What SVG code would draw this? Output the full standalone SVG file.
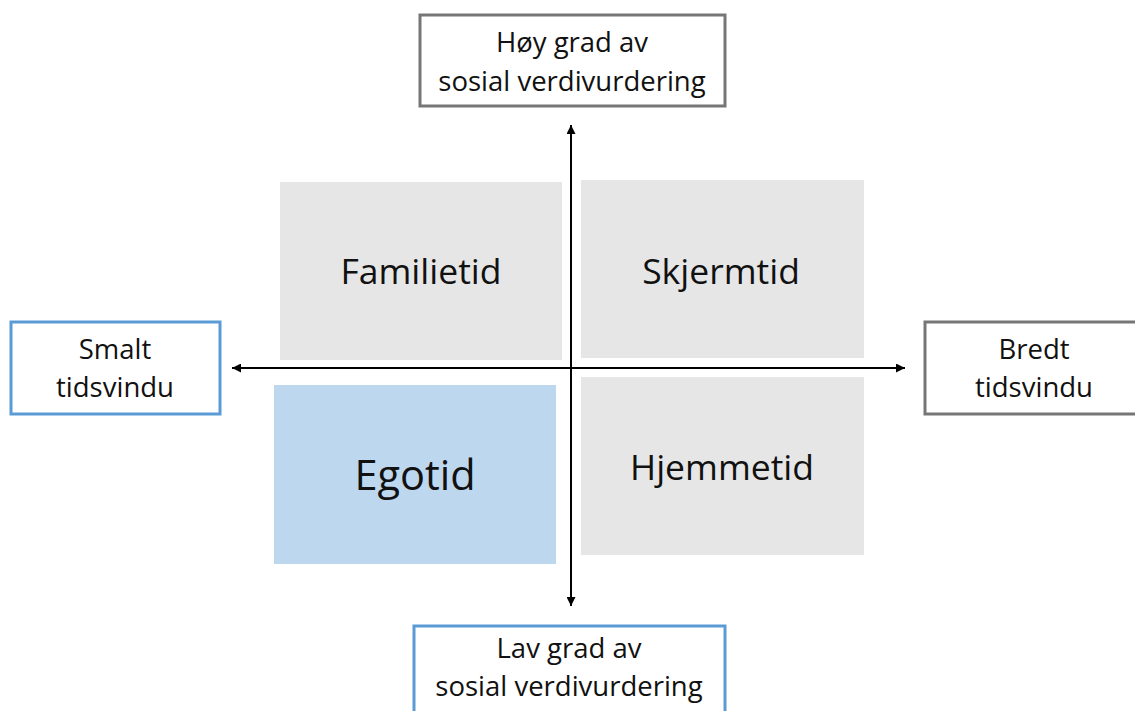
<svg xmlns="http://www.w3.org/2000/svg" width="1135" height="711" viewBox="0 0 1135 711">
<defs>
<marker id="ah" viewBox="0 0 10 10" refX="10" refY="5" markerWidth="9" markerHeight="9" markerUnits="userSpaceOnUse" orient="auto-start-reverse">
<path d="M0,0 L10,5 L0,10 Z" fill="#000"/>
</marker>
<style>
.lbl{font-family:"Open Sans","Liberation Sans",sans-serif;fill:#111;text-anchor:middle}
.sm{font-size:27.5px}
.q{font-size:35.5px}
.bg{fill:#fff;stroke:#767676;stroke-width:3}
.bb{fill:#fff;stroke:#5b9bd5;stroke-width:3}
.gq{fill:#e6e6e6}
.bq{fill:#bdd7ee}
.ax{stroke:#000;stroke-width:2;fill:none}
</style>
</defs>
<rect width="1135" height="711" fill="#fff"/>
<g id="familietid"><rect class="gq" x="280" y="182" width="282" height="178"/><text class="lbl q" x="421" y="284">Familietid</text></g>
<g id="skjermtid"><rect class="gq" x="581" y="180" width="283" height="178"/><text class="lbl q" x="721" y="284">Skjermtid</text></g>
<g id="egotid"><rect class="bq" x="274" y="385" width="282" height="179"/><text class="lbl q" x="415" y="490" style="font-size:41.5px">Egotid</text></g>
<g id="hjemmetid"><rect class="gq" x="581" y="377" width="283" height="178"/><text class="lbl q" x="722" y="480">Hjemmetid</text></g>
<g id="connectors">
<line class="ax" x1="571" y1="606" x2="571" y2="125" marker-start="url(#ah)" marker-end="url(#ah)"/>
<line class="ax" x1="232" y1="368" x2="905" y2="368" marker-start="url(#ah)" marker-end="url(#ah)"/>
</g>
<g id="top"><rect class="bg" x="420" y="15" width="305" height="91"/><text class="lbl sm" x="572" y="52">Høy grad av</text><text class="lbl sm" x="572" y="91">sosial verdivurdering</text></g>
<g id="bottom"><rect class="bb" x="414" y="626" width="311" height="100"/><text class="lbl sm" x="569" y="658">Lav grad av</text><text class="lbl sm" x="569" y="696">sosial verdivurdering</text></g>
<g id="left"><rect class="bb" x="11" y="322" width="209" height="92"/><text class="lbl sm" x="115" y="359">Smalt</text><text class="lbl sm" x="115" y="397">tidsvindu</text></g>
<g id="right"><rect class="bg" x="925" y="322" width="220" height="92"/><text class="lbl sm" x="1034" y="359">Bredt</text><text class="lbl sm" x="1034" y="397">tidsvindu</text></g>
</svg>
